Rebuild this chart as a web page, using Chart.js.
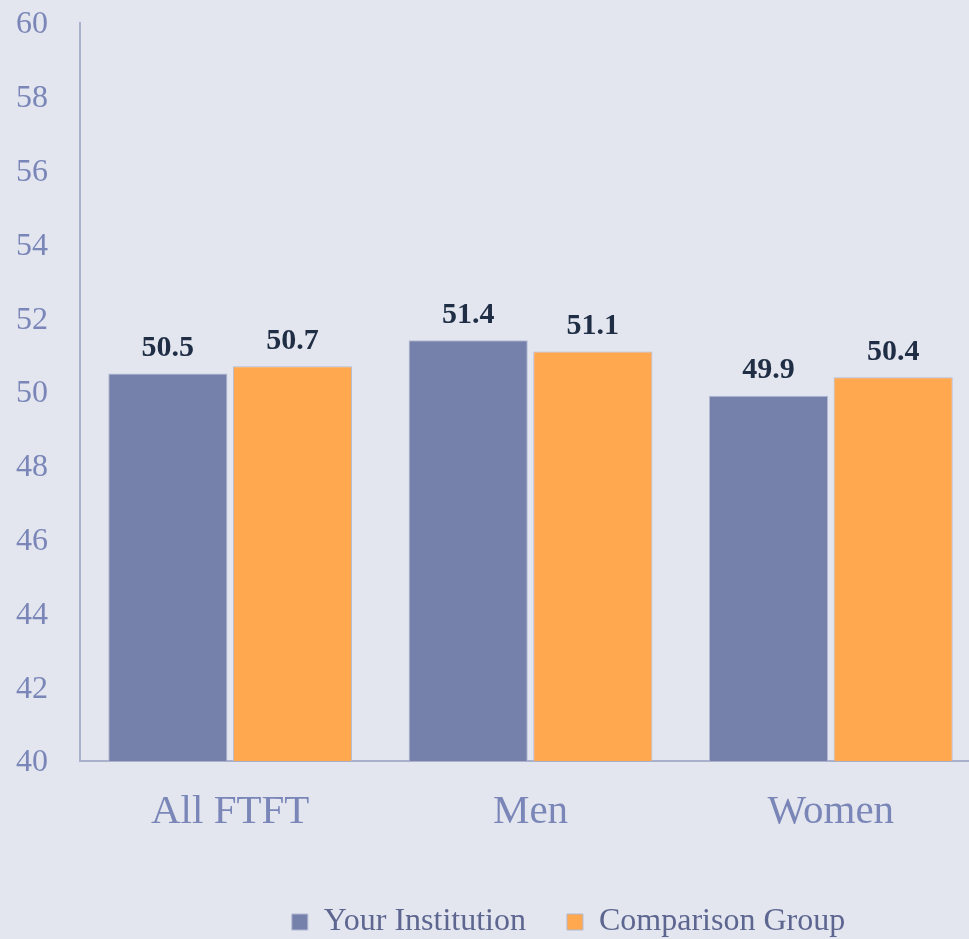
<!DOCTYPE html>
<html>
<head>
<meta charset="utf-8">
<script src="https://cdn.jsdelivr.net/npm/chart.js@4.4.0/dist/chart.umd.min.js"></script>
<style>
  html, body { margin: 0; padding: 0; background: #e3e6ee; overflow: hidden; }
  /* plot runs a little past the right edge, as in the original */
  #wrap { width: 981px; height: 939px; position: relative; }
</style>
</head>
<body>
<div id="wrap"><canvas id="chart"></canvas></div>
<script>
// ─── data ───
const categories = ['All FTFT', 'Men', 'Women'];
const yourInstitution = [50.5, 51.4, 49.9];
const comparisonGroup = [50.7, 51.1, 50.4];
const seriesNames = ['Your Institution', 'Comparison Group'];

const serif = "'Liberation Serif', 'DejaVu Serif', serif";

// draws the value above each bar
const valueLabels = {
  id: 'valueLabels',
  afterDatasetsDraw(chart) {
    const ctx = chart.ctx;
    ctx.save();
    ctx.font = 'bold 30px ' + serif;
    ctx.fillStyle = '#1f2d45';
    ctx.textAlign = 'center';
    ctx.textBaseline = 'middle';
    chart.data.datasets.forEach((ds, i) => {
      chart.getDatasetMeta(i).data.forEach((bar, j) => {
        ctx.fillText(ds.data[j].toFixed(1), bar.x, bar.y - 25);
      });
    });
    ctx.restore();
  }
};

// fixed legend height, and the legend sits off-centre in the original
const legendTweak = {
  id: 'legendTweak',
  beforeInit(chart) {
    const fit = chart.legend.fit;
    chart.legend.fit = function () {
      fit.call(this);
      this.height = 74;
    };
  },
  afterLayout(chart) {
    chart.legend.left += 78;
    chart.legend.right += 78;
  }
};

new Chart(document.getElementById('chart'), {
  type: 'bar',
  data: {
    labels: categories,
    datasets: [
      {
        label: seriesNames[0],
        data: yourInstitution,
        backgroundColor: '#7580ab',
        borderColor: '#b3bad3',
        borderWidth: 1,
        categoryPercentage: 0.83,
        barPercentage: 0.956,
      },
      {
        label: seriesNames[1],
        data: comparisonGroup,
        backgroundColor: '#ffa84f',
        borderColor: '#b3bad3',
        borderWidth: 1,
        categoryPercentage: 0.83,
        barPercentage: 0.956,
      }
    ]
  },
  options: {
    responsive: true,
    maintainAspectRatio: false,
    animation: false,
    layout: { padding: { top: 23, right: 0, left: 0, bottom: 0 } },
    plugins: {
      legend: {
        position: 'bottom',
        labels: {
          color: '#5d6690',
          font: { size: 32, family: serif },
          boxWidth: 16,
          boxHeight: 16,
          padding: 41,
        }
      },
      tooltip: { enabled: false }
    },
    scales: {
      x: {
        ticks: { color: '#7a86b8', font: { size: 41, family: serif }, padding: 27 },
        grid: { display: false, drawTicks: false },
        border: { color: '#a9b0cc', width: 2 },
        afterFit: s => { s.height = 104; }
      },
      y: {
        min: 40,
        max: 60,
        ticks: { stepSize: 2, color: '#7a86b8', font: { size: 32, family: serif }, padding: 32, labelOffset: 2 },
        grid: { display: false, drawTicks: false },
        border: { color: '#a9b0cc', width: 2 },
        afterFit: s => { s.width = 80; s.paddingTop = 0; s.paddingBottom = 0; }
      }
    }
  },
  plugins: [valueLabels, legendTweak]
});
</script>
</body>
</html>
